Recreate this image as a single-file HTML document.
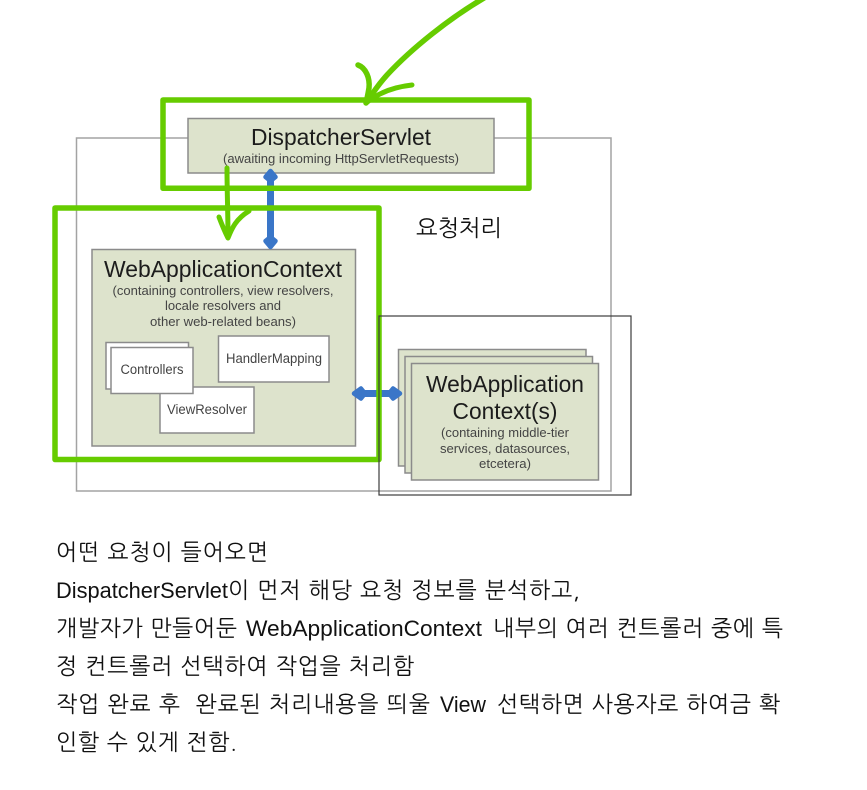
<!DOCTYPE html>
<html lang="ko"><head><meta charset="utf-8"><style>
html,body{margin:0;padding:0;background:#fff;width:867px;height:790px;overflow:hidden}
svg{display:block}
text{font-family:"Liberation Sans","NanumGothic","Noto Sans CJK KR",sans-serif}
.d text{filter:blur(.3px)}
.b text{font-family:"NanumGothic","Noto Sans CJK KR","Liberation Sans",sans-serif;font-size:22.5px;fill:#111}
.b text.l{font-family:"Liberation Sans",sans-serif;font-size:22px}
</style></head><body>
<svg width="867" height="790" viewBox="0 0 867 790" xmlns="http://www.w3.org/2000/svg">
<rect width="867" height="790" fill="#fff"/>
<rect x="76.5" y="138" width="534.5" height="353" fill="#fff" stroke="#a3a3a3" stroke-width="1.5"/>
<g class="d">
<rect x="188" y="118.5" width="306" height="54.5" fill="#dde3cc" stroke="#8b8b8b" stroke-width="1.5"/>
<text x="341" y="145" font-size="23" text-anchor="middle" fill="#1c1c1c" textLength="180" lengthAdjust="spacingAndGlyphs">DispatcherServlet</text>
<text x="341" y="163" font-size="13" text-anchor="middle" fill="#444" textLength="236" lengthAdjust="spacingAndGlyphs">(awaiting incoming HttpServletRequests)</text>
<rect x="92" y="249.5" width="263.5" height="196.5" fill="#dde3cc" stroke="#8b8b8b" stroke-width="1.5"/>
<text x="223" y="277" font-size="23" text-anchor="middle" fill="#1c1c1c" textLength="238" lengthAdjust="spacingAndGlyphs">WebApplicationContext</text>
<g font-size="13" text-anchor="middle" fill="#444">
<text x="223" y="295" textLength="221" lengthAdjust="spacingAndGlyphs">(containing controllers, view resolvers,</text>
<text x="223" y="310" textLength="116" lengthAdjust="spacingAndGlyphs">locale resolvers and</text>
<text x="223" y="326" textLength="146" lengthAdjust="spacingAndGlyphs">other web-related beans)</text>
</g>
<g fill="#fff" stroke="#8b8b8b" stroke-width="1.5">
<rect x="106" y="342.5" width="82.5" height="46.5"/>
<rect x="160" y="387" width="94" height="46"/>
<rect x="111" y="347.5" width="82" height="46"/>
<rect x="218.5" y="336" width="110.5" height="46"/>
</g>
<g font-size="13.5" text-anchor="middle" fill="#444">
<text x="152" y="374" textLength="63" lengthAdjust="spacingAndGlyphs">Controllers</text>
<text x="274" y="363" textLength="96" lengthAdjust="spacingAndGlyphs">HandlerMapping</text>
<text x="207" y="414" textLength="80" lengthAdjust="spacingAndGlyphs">ViewResolver</text>
</g>
<g fill="#dde3cc" stroke="#8b8b8b" stroke-width="1.5">
<rect x="398.5" y="349.5" width="187.5" height="116.5"/>
<rect x="405" y="356.5" width="187.5" height="116.5"/>
<rect x="411.5" y="363.5" width="187" height="116.5"/>
</g>
<text x="505" y="392" font-size="23" text-anchor="middle" fill="#1c1c1c" textLength="158" lengthAdjust="spacingAndGlyphs">WebApplication</text>
<text x="505" y="419" font-size="23" text-anchor="middle" fill="#1c1c1c" textLength="105" lengthAdjust="spacingAndGlyphs">Context(s)</text>
<g font-size="13" text-anchor="middle" fill="#444">
<text x="505" y="437" textLength="128" lengthAdjust="spacingAndGlyphs">(containing middle-tier</text>
<text x="505" y="453" textLength="130" lengthAdjust="spacingAndGlyphs">services, datasources,</text>
<text x="505" y="468" textLength="52" lengthAdjust="spacingAndGlyphs">etcetera)</text>
</g>
</g>
<g stroke="#3a76c8" fill="#3a76c8" stroke-linejoin="round">
<path d="M270.5 176V242" stroke-width="7" fill="none"/>
<path d="M270.5 171L275.5 177L270.5 181L265.5 177Z" stroke-width="4.5"/>
<path d="M270.5 247L275.5 241L270.5 237L265.5 241Z" stroke-width="4.5"/>
<path d="M358 393.5H396" stroke-width="7" fill="none"/>
<path d="M354 393.5L361 388.5L365 393.5L361 398.5Z" stroke-width="4.5"/>
<path d="M400 393.5L393 388.5L389 393.5L393 398.5Z" stroke-width="4.5"/>
</g>
<g fill="none" stroke="#66cc00" stroke-linejoin="round" stroke-linecap="round">
<rect x="163" y="100" width="366" height="88.3" stroke-width="5.5"/>
<rect x="55" y="208" width="324" height="251.5" stroke-width="5.5"/>
<path d="M484 -2C450 18 412 48 387 75C378 85 372 94 367 102" stroke-width="5.5"/>
<path d="M358 65C366 68 370 78 369 88C368 94 367 99 366 103" stroke-width="5.5"/>
<path d="M366 103C378 93 394 87 412 85" stroke-width="5"/>
<path d="M227 168C227 190 228 215 228 237" stroke-width="5"/>
<path d="M219 217C222 225 225 232 228 238C232 228 236 219 249 211" stroke-width="5"/>
</g>
<rect x="379" y="316" width="252" height="179" fill="none" stroke="#3c3c3c" stroke-width="1.2"/>
<text x="416" y="236" font-size="23" fill="#111" textLength="86" style="font-family:'NanumGothic','Noto Sans CJK KR',sans-serif">요청처리</text>
<g class="b">
<text x="56" y="560" textLength="212">어떤 요청이 들어오면</text>
<text class="l" x="56" y="598" textLength="172" lengthAdjust="spacingAndGlyphs">DispatcherServlet</text>
<text x="228" y="598" textLength="352">이 먼저 해당 요청 정보를 분석하고,</text>
<text x="56" y="636" textLength="181">개발자가 만들어둔</text>
<text class="l" x="246" y="636" textLength="236" lengthAdjust="spacingAndGlyphs">WebApplicationContext</text>
<text x="493" y="636" textLength="290">내부의 여러 컨트롤러 중에 특</text>
<text x="56" y="674" textLength="358">정 컨트롤러 선택하여 작업을 처리함</text>
<text x="56" y="712" textLength="374" xml:space="preserve">작업 완료 후  완료된 처리내용을 띄울</text>
<text class="l" x="440" y="712" textLength="46" lengthAdjust="spacingAndGlyphs">View</text>
<text x="497" y="712" textLength="283">선택하면 사용자로 하여금 확</text>
<text x="56" y="750" textLength="181">인할 수 있게 전함.</text>
</g>
</svg>
</body></html>
